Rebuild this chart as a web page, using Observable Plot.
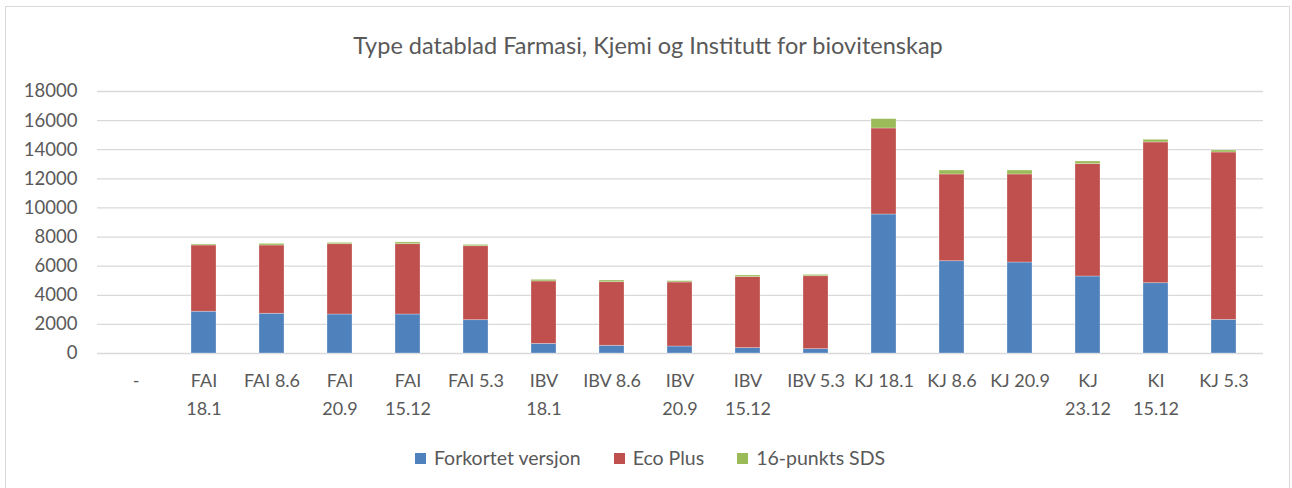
<!DOCTYPE html>
<html>
<head>
<meta charset="utf-8">
<script src="https://cdn.jsdelivr.net/npm/d3@7"></script>
<script src="https://cdn.jsdelivr.net/npm/@observablehq/plot@0.6"></script>
<style>
  html, body { margin: 0; padding: 0; background: #fff; }
  body { width: 1292px; height: 488px; position: relative; overflow: hidden; font-family: Lato, "Open Sans", sans-serif; color: #595959; }
  #frame { position: absolute; left: 5px; top: 6px; width: 1285px; height: 500px; border: 1px solid #d9d9d9; box-sizing: border-box; }
  #title { position: absolute; left: 0; top: 30px; width: 1296px; text-align: center; font-size: 23.5px; line-height: 30px; color: #595959; }
  #chart { position: absolute; left: 0; top: 70px; }
  #legend { position: absolute; left: 0; top: 445px; width: 1300px; display: flex; justify-content: center; gap: 33px; font-size: 19.5px; line-height: 26px; color: #595959; }
  #legend span.item { display: inline-flex; align-items: center; gap: 8px; }
  #legend span.sw { width: 11px; height: 11px; display: inline-block; }
</style>
</head>
<body>
<div id="frame"></div>
<div id="title">Type datablad Farmasi, Kjemi og Institutt for biovitenskap</div>
<div id="chart"></div>
<div id="legend"></div>
<script>
const categories = ["-", "FAI 18.1", "FAI 8.6", "FAI 20.9", "FAI 15.12", "FAI 5.3", "IBV 18.1", "IBV 8.6", "IBV 20.9", "IBV 15.12", "IBV 5.3", "KJ 18.1", "KJ 8.6", "KJ 20.9", "KJ 23.12", "KI 15.12", "KJ 5.3"];
const tickLabels = ["-", "FAI\n18.1", "FAI 8.6", "FAI\n20.9", "FAI\n15.12", "FAI 5.3", "IBV\n18.1", "IBV 8.6", "IBV\n20.9", "IBV\n15.12", "IBV 5.3", "KJ 18.1", "KJ 8.6", "KJ 20.9", "KJ\n23.12", "KI\n15.12", "KJ 5.3"];
const seriesNames = ["Forkortet versjon", "Eco Plus", "16-punkts SDS"];
const seriesColors = ["#4F81BD", "#C0504D", "#9BBB59"];
const forkortet = [0, 2870, 2730, 2680, 2680, 2290, 660, 530, 480, 370, 300, 9550, 6340, 6250, 5290, 4830, 2310];
const ecoPlus   = [0, 4550, 4690, 4830, 4830, 5080, 4290, 4370, 4400, 4880, 5010, 5910, 5960, 6050, 7720, 9670, 11500];
const sds16     = [0, 70, 110, 90, 120, 90, 110, 115, 90, 110, 90, 640, 270, 270, 180, 180, 140];
const yTicks = [0, 2000, 4000, 6000, 8000, 10000, 12000, 14000, 16000, 18000];

const seriesValues = [forkortet, ecoPlus, sds16];
const data = seriesNames.flatMap((s, si) => categories.map((c, ci) => ({category: c, series: s, value: seriesValues[si][ci]})));
const labelOf = new Map(categories.map((c, i) => [c, tickLabels[i]]));

const plot = Plot.plot({
  width: 1292,
  height: 360,
  marginTop: 21,
  marginBottom: 77,
  marginLeft: 97,
  marginRight: 29,
  style: {fontFamily: "Lato, 'Open Sans', sans-serif", color: "#595959", background: "transparent"},
  x: {domain: categories, paddingInner: 0.63, paddingOuter: 0.315, align: 0.5, label: null},
  y: {domain: [0, 18000], ticks: yTicks, label: null},
  color: {domain: seriesNames, range: seriesColors},
  marks: [
    Plot.gridY(yTicks, {stroke: "#d9d9d9", strokeOpacity: 1, strokeWidth: 1.3}),
    Plot.barY(data, Plot.stackY({x: "category", y: "value", fill: "series", order: seriesNames, stroke: "#fff", strokeOpacity: 0.35, strokeWidth: 0.8})),
    Plot.axisY(yTicks, {tickSize: 0, tickPadding: 20, fontSize: 18.5, tickFormat: d => String(d)}),
    Plot.axisX({tickSize: 0, tickPadding: 14, fontSize: 18, lineHeight: 1.55, tickFormat: d => labelOf.get(d)})
  ]
});
document.getElementById("chart").appendChild(plot);

const legend = document.getElementById("legend");
seriesNames.forEach((s, i) => {
  const item = document.createElement("span");
  item.className = "item";
  const sw = document.createElement("span");
  sw.className = "sw";
  sw.style.background = seriesColors[i];
  item.appendChild(sw);
  item.appendChild(document.createTextNode(s));
  legend.appendChild(item);
});
</script>
</body>
</html>
